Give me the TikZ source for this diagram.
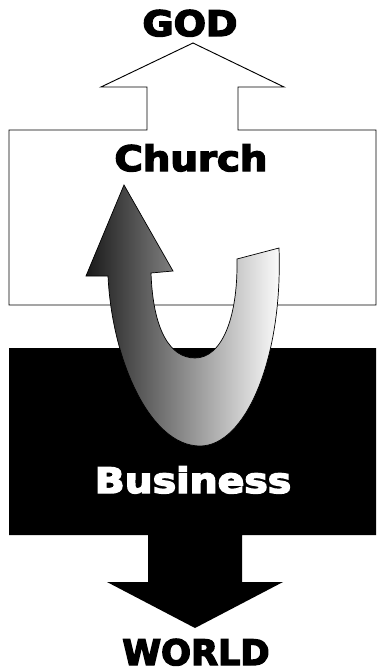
\documentclass[tikz,border=0pt]{standalone}
\usepackage{fontspec}
\setmainfont{DejaVu Sans}[BoldFeatures={FakeBold=4}]
\tikzset{
  word/.style={anchor=base, inner sep=0pt, font=\bfseries\fontsize{30}{36}\selectfont}
}
\begin{document}
\begin{tikzpicture}[x=0.03cm,y=-0.03cm]
        \useasboundingbox (0,0) rectangle (377,672);

        % 教会：向上的箭头
        \draw[line width=0.8pt, fill=white] (9,130) -- (147,130) -- (147,87) -- (101,87) -- (193,43)
            -- (284,87) -- (238,87) -- (238,130) -- (376,130) -- (376,305) -- (9,305) -- cycle;

        % 商业：向下的箭头
        \fill[black] (9,348) -- (376,348) -- (376,535) -- (242,535) -- (242,582) -- (283,582)
            -- (195,628) -- (107,582) -- (148,582) -- (148,535) -- (9,535) -- cycle;

        % 弯回去的箭头（渐变）
        \draw[line width=0.6pt, left color=black!90, middle color=black!45, right color=white]
            (124,185) -- (173,271) -- (151,273)
            .. controls (153,330) and (170,358) .. (195,358)
            .. controls (221,358) and (238,320) .. (237,259)
            -- (279,248)
            .. controls (283,360) and (245,446) .. (200,446)
            .. controls (150,446) and (112,360) .. (108,276)
            -- (86,276) -- cycle;

        % 文字
        \node[word, xscale=1.08] (god) at (190,36) {GOD};
        \node[word, xscale=1.1] (church) at (191,171) {Church};
        \node[word, white, xscale=1.12] (business) at (193,493) {Business};
        \node[word] (world) at (196,665) {WORLD};
\end{tikzpicture}
\end{document}
